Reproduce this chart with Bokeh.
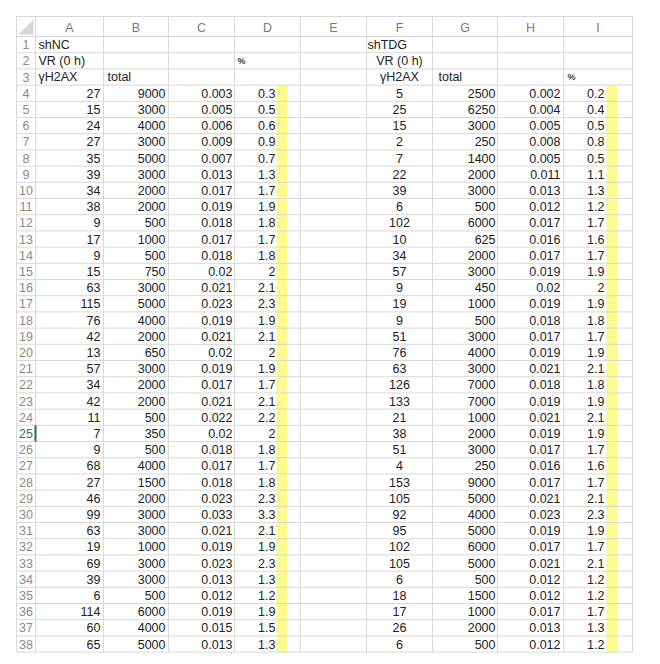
from bokeh.plotting import figure
from bokeh.models import ColumnDataSource
from bokeh.core.properties import value
from bokeh.embed import file_html
from bokeh.resources import INLINE

# ---- data (rows 4..38 of the sheet) ----
nc_h2ax = [27, 15, 24, 27, 35, 39, 34, 38, 9, 17, 9, 15, 63, 115, 76, 42, 13, 57, 34, 42,
           11, 7, 9, 68, 27, 46, 99, 63, 19, 69, 39, 6, 114, 60, 65]
nc_total = [9000, 3000, 4000, 3000, 5000, 3000, 2000, 2000, 500, 1000, 500, 750, 3000, 5000,
            4000, 2000, 650, 3000, 2000, 2000, 500, 350, 500, 4000, 1500, 2000, 3000, 3000,
            1000, 3000, 3000, 500, 6000, 4000, 5000]
nc_ratio = [0.003, 0.005, 0.006, 0.009, 0.007, 0.013, 0.017, 0.019, 0.018, 0.017, 0.018, 0.02,
            0.021, 0.023, 0.019, 0.021, 0.02, 0.019, 0.017, 0.021, 0.022, 0.02, 0.018, 0.017,
            0.018, 0.023, 0.033, 0.021, 0.019, 0.023, 0.013, 0.012, 0.019, 0.015, 0.013]
nc_pct = [0.3, 0.5, 0.6, 0.9, 0.7, 1.3, 1.7, 1.9, 1.8, 1.7, 1.8, 2, 2.1, 2.3, 1.9, 2.1, 2, 1.9,
          1.7, 2.1, 2.2, 2, 1.8, 1.7, 1.8, 2.3, 3.3, 2.1, 1.9, 2.3, 1.3, 1.2, 1.9, 1.5, 1.3]

tdg_h2ax = [5, 25, 15, 2, 7, 22, 39, 6, 102, 10, 34, 57, 9, 19, 9, 51, 76, 63, 126, 133, 21,
            38, 51, 4, 153, 105, 92, 95, 102, 105, 6, 18, 17, 26, 6]
tdg_total = [2500, 6250, 3000, 250, 1400, 2000, 3000, 500, 6000, 625, 2000, 3000, 450, 1000,
             500, 3000, 4000, 3000, 7000, 7000, 1000, 2000, 3000, 250, 9000, 5000, 4000, 5000,
             6000, 5000, 500, 1500, 1000, 2000, 500]
tdg_ratio = [0.002, 0.004, 0.005, 0.008, 0.005, 0.011, 0.013, 0.012, 0.017, 0.016, 0.017, 0.019,
             0.02, 0.019, 0.018, 0.017, 0.019, 0.021, 0.018, 0.019, 0.021, 0.019, 0.017, 0.016,
             0.017, 0.021, 0.023, 0.019, 0.017, 0.021, 0.012, 0.012, 0.017, 0.013, 0.012]
tdg_pct = [0.2, 0.4, 0.5, 0.8, 0.5, 1.1, 1.3, 1.2, 1.7, 1.6, 1.7, 1.9, 2, 1.9, 1.8, 1.7, 1.9,
           2.1, 1.8, 1.9, 2.1, 1.9, 1.7, 1.6, 1.7, 2.1, 2.3, 1.9, 1.7, 2.1, 1.2, 1.2, 1.7, 1.3, 1.2]

col_letters = ["A", "B", "C", "D", "E", "F", "G", "H", "I"]
n_rows = 38
first_data_row = 4
active_row = 25

# (row, text, x, align) for the label cells
labels = [(1, "shNC", 38, "left"), (2, "VR (0 h)", 38, "left"), (3, "γH2AX", 38, "left"),
          (3, "total", 107, "left"),
          (1, "shTDG", 367, "left"), (2, "VR (0 h)", 399, "center"), (3, "γH2AX", 399, "center"),
          (3, "total", 438, "left")]
pct_marks = [(2, 237), (3, 567)]

# ---- layout ----
edges = [16, 35, 103, 168, 234, 300, 366, 432, 497, 563, 632]
head_top = 16
row_top = 36
row_h = 16.2
bottom = row_top + n_rows * row_h
FONT = value("Liberation Sans")
grid_col = "#d9d9d9"


def yc(r):
    return row_top + (r - 0.5) * row_h


p = figure(width=652, height=656, x_range=(0, 652), y_range=(656, 0),
           output_backend="svg", toolbar_location=None, min_border=0)
p.axis.visible = False
p.grid.visible = False
p.outline_line_color = None
p.background_fill_color = "white"

# yellow highlight strips in D and I
yellow_x = [(276, 287), (606, 617)]
p.quad(left=[a for a, b in yellow_x], right=[b for a, b in yellow_x],
       top=[row_top + (first_data_row - 1) * row_h] * 2, bottom=[bottom] * 2,
       fill_color="#fbfb8e", line_color=None)

# grid lines
hy = [head_top] + [row_top + k * row_h for k in range(n_rows + 1)]
p.segment(x0=[edges[0]] * len(hy), x1=[edges[-1]] * len(hy), y0=hy, y1=hy,
          line_color=grid_col, line_width=1)
p.segment(x0=edges, x1=edges, y0=[head_top] * len(edges), y1=[bottom] * len(edges),
          line_color=grid_col, line_width=1)

# corner triangle
p.patch(x=[18, 33, 33], y=[34, 34, 19], fill_color="#d6d6d6", line_color=None)

# column letters
centers = [(edges[i + 1] + edges[i + 2]) / 2 for i in range(len(col_letters))]
p.text(x=centers, y=[(head_top + row_top) / 2 + 1] * len(col_letters), text=col_letters,
       text_font=FONT, text_font_size="12.5px", text_color="#7a7a7a",
       text_align="center", text_baseline="middle")

# row numbers
rows = list(range(1, n_rows + 1))
p.text(x=[25.5] * n_rows, y=[yc(r) for r in rows], text=[str(r) for r in rows],
       text_font=FONT, text_font_size="12.5px",
       text_color=["#2d7a4f" if r == active_row else "#8a8a8a" for r in rows],
       text_align="center", text_baseline="middle")
p.segment(x0=[35], x1=[35], y0=[yc(active_row) - row_h / 2], y1=[yc(active_row) + row_h / 2],
          line_color="#1e7145", line_width=2)

# label cells
p.text(x=[l[2] for l in labels], y=[yc(l[0]) for l in labels], text=[l[1] for l in labels],
       text_font=FONT, text_font_size="12.5px", text_color="#222222",
       text_align=[l[3] for l in labels], text_baseline="middle")
p.text(x=[m[1] for m in pct_marks], y=[yc(m[0]) for m in pct_marks], text=["%"] * len(pct_marks),
       text_font=FONT, text_font_size="9px", text_font_style="bold", text_color="#444444",
       text_align="left", text_baseline="middle")

# data columns: (values, x, align)
data_rows = list(range(first_data_row, first_data_row + len(nc_h2ax)))
columns = [(nc_h2ax, 100, "right"), (nc_total, 165, "right"), (nc_ratio, 232, "right"),
           (nc_pct, 275, "right"),
           (tdg_h2ax, 399, "center"), (tdg_total, 495, "right"), (tdg_ratio, 560, "right"),
           (tdg_pct, 604, "right")]
for vals, x, align in columns:
    src = ColumnDataSource(dict(x=[x] * len(vals), y=[yc(r) for r in data_rows],
                                t=[f"{v:g}" for v in vals]))
    p.text(x="x", y="y", text="t", source=src, text_font=FONT, text_font_size="12.5px",
           text_color="#222222", text_align=align, text_baseline="middle")

open("out.html", "w").write(file_html(p, INLINE))
